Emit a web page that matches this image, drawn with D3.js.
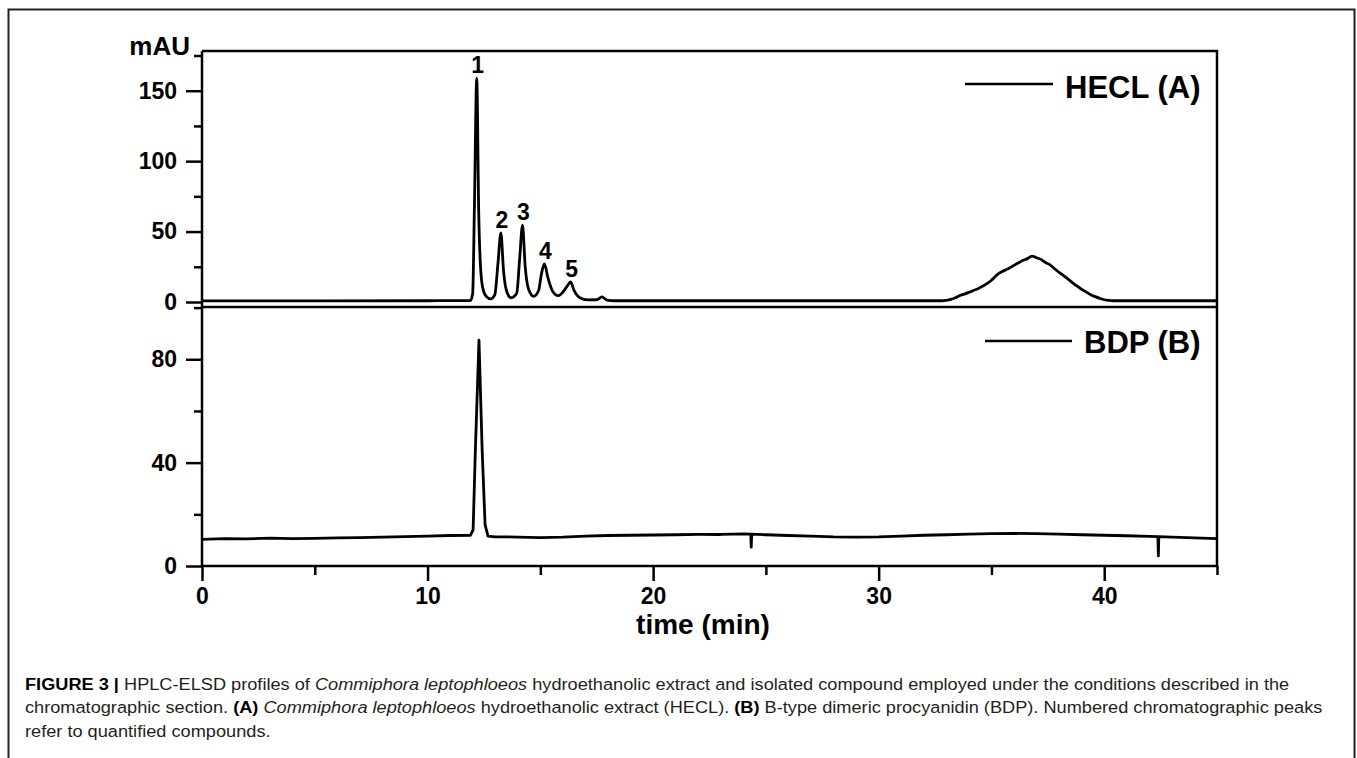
<!doctype html>
<html lang="en">
<head>
  <meta charset="utf-8">
  <title>HPLC-ELSD profiles</title>
  <style>
    body { margin: 0; background: #fff; }
    .axis path, .axis line { stroke: #000; stroke-width: 2.5; }
    .axis text { font: bold 23px "Liberation Sans", Arial, sans-serif; fill: #000; }
    .trace { fill: none; stroke: #000; stroke-width: 2.8; stroke-linejoin: round; }
    .frame { stroke: #000; stroke-width: 2.5; fill: none; }
    .lbl { font: bold 23px "Liberation Sans", Arial, sans-serif; text-anchor: middle; }
    .legend text { font: bold 31px "Liberation Sans", Arial, sans-serif; }
    .caption { font: 17px "Liberation Sans", Arial, sans-serif; fill: #231f20; }
  </style>
</head>
<body>
  <div id="chart"></div>

  <script src="https://d3js.org/d3.v7.min.js"></script>
  <script>
// HECL (A) trace, time in min / signal in mAU
const timeA = [0, 5, 10, 11.9, 12.0, 12.08, 12.18, 12.27, 12.36, 12.46, 12.6, 12.8, 12.98,
  13.12, 13.25, 13.37, 13.5, 13.7, 13.95, 14.08, 14.21, 14.33, 14.48, 14.7, 14.92, 15.05,
  15.18, 15.34, 15.55, 15.8, 16.05, 16.2, 16.34, 16.5, 16.75, 17.1, 17.5, 17.73, 17.95, 18.3,
  25, 32.8, 33.0, 33.2, 33.4, 33.6, 33.8, 34.0, 34.2, 34.4, 34.6, 34.8, 35.0, 35.2, 35.4,
  35.6, 35.8, 36.0, 36.2, 36.4, 36.6, 36.8, 37.0, 37.2, 37.4, 37.6, 37.8, 38.0, 38.2, 38.4,
  38.6, 38.8, 39.0, 39.2, 39.4, 39.6, 39.8, 40.0, 40.2, 40.4, 45];
const signalA = [0.8, 0.8, 0.9, 1.0, 6, 70, 159, 62, 22, 9, 4, 2.2, 5,
  27, 49, 22, 8, 3, 6, 30, 54.5, 25, 9, 4, 8, 20,
  27, 17, 7.5, 4.5, 8, 11.5, 14.2, 8, 3, 1.5, 1.6, 3.6, 1.4, 0.9,
  0.9, 0.9, 1.2, 1.8, 3.0, 4.6, 5.6, 6.8, 8.2, 9.4, 11.2, 13.0, 15.4, 18.6, 21.0,
  22.6, 24.2, 26.0, 27.8, 29.6, 30.8, 32.6, 31.4, 30.2, 28.0, 26.4, 23.6, 21.0, 18.8, 16.2,
  13.6, 11.2, 9.0, 7.2, 5.2, 3.8, 2.6, 1.6, 1.1, 0.9, 0.9];

// BDP (B) trace
const timeB = [0, 1, 2, 3, 4, 5, 6, 7, 8, 9, 10, 11, 11.9, 12.02, 12.12, 12.28, 12.42,
  12.55, 12.68, 13, 14, 15, 16, 17, 18, 19, 20, 21, 22, 23, 24, 24.33, 24.35, 24.37, 25,
  26, 27, 28, 29, 30, 31, 32, 33, 34, 35, 36, 37, 38, 39, 40, 41, 42, 42.38, 42.4, 42.42,
  43, 44, 45];
const signalB = [10.3, 10.6, 10.5, 10.8, 10.6, 10.7, 10.9, 11.0, 11.2, 11.4, 11.6, 11.8,
  11.9, 14, 45, 87.4, 45, 16, 11.6, 11.3, 11.2, 11.0, 11.2, 11.6, 11.8, 11.9, 12.0, 12.1,
  12.2, 12.2, 12.4, 12.3, 7.3, 12.3, 12.1, 11.8, 11.6, 11.3, 11.2, 11.3, 11.6, 11.9, 12.1,
  12.3, 12.5, 12.6, 12.5, 12.3, 12.1, 11.9, 11.7, 11.5, 11.4, 3.9, 11.4, 11.2, 10.9, 10.6];

// numbered peaks of the HECL trace
const peakNames = ['1', '2', '3', '4', '5'];
const peakTimes = [12.18, 13.25, 14.21, 15.18, 16.34];
const peakHeights = [159, 49, 54.5, 27, 14.2];

const xMajor = [0, 10, 20, 30, 40];
const xMinor = [5, 15, 25, 35, 45];
const yMajorA = [0, 50, 100, 150];
const yMinorA = [25, 75, 125, 175];
const yMajorB = [0, 40, 80];
const yMinorB = [20, 60, 100];

const legendNames = ['HECL (A)', 'BDP (B)'];

const width = 1357;
const height = 758;

const svg = d3.select('#chart')
  .append('svg')
  .attr('width', width)
  .attr('height', height);

svg.append('rect')
  .attr('width', width)
  .attr('height', height)
  .attr('fill', '#fff');

// outer figure box
svg.append('rect')
  .attr('x', 8.5)
  .attr('y', 9.5)
  .attr('width', 1346)
  .attr('height', 770)
  .attr('fill', 'none')
  .attr('stroke', '#222')
  .attr('stroke-width', 2);

const left = 202, right = 1217;
const x = d3.scaleLinear().domain([0, 45]).range([left, right]);
const yA = d3.scaleLinear().domain([-3.55, 178.2]).range([307, 51]);
const yB = d3.scaleLinear().domain([0, 100]).range([566, 307.6]);

const lineA = d3.line()
  .x(d => x(d[0]))
  .y(d => yA(d[1]))
  .curve(d3.curveMonotoneX);

const lineB = d3.line()
  .x(d => x(d[0]))
  .y(d => yB(d[1]));

svg.append('path')
  .datum(d3.zip(timeA, signalA))
  .attr('class', 'trace')
  .attr('d', lineA);

svg.append('path')
  .datum(d3.zip(timeB, signalB))
  .attr('class', 'trace')
  .attr('d', lineB);

// panel frames: top line, right line, separator
svg.append('path')
  .attr('class', 'frame')
  .attr('d', `M${left},${yA.range()[1]}H${right}V${yB.range()[0]}M${left},307H${right}`);

// axes
function addAxis(axis, cls, transform) {
  const g = svg.append('g')
    .attr('class', 'axis ' + cls)
    .attr('transform', transform)
    .call(axis);
  g.select('.domain').remove();
  return g;
}

addAxis(d3.axisLeft(yA).tickValues(yMajorA).tickSize(16).tickPadding(9), 'yA', `translate(${left},0)`);
addAxis(d3.axisLeft(yA).tickValues(yMinorA).tickSize(8).tickFormat(''), 'yA', `translate(${left},0)`);
addAxis(d3.axisLeft(yB).tickValues(yMajorB).tickSize(16).tickPadding(9), 'yB', `translate(${left},0)`);
addAxis(d3.axisLeft(yB).tickValues(yMinorB).tickSize(8).tickFormat(''), 'yB', `translate(${left},0)`);
addAxis(d3.axisBottom(x).tickValues(xMajor).tickSize(15).tickPadding(7), 'x', `translate(0,${yB.range()[0]})`);
addAxis(d3.axisBottom(x).tickValues(xMinor).tickSize(9).tickFormat(''), 'x', `translate(0,${yB.range()[0]})`);

// axis lines
svg.append('path')
  .attr('class', 'frame')
  .attr('d', `M${left},${yA.range()[1]}V${yB.range()[0]}H${right}`);

// axis titles
svg.append('text')
  .attr('x', 190)
  .attr('y', 55)
  .attr('text-anchor', 'end')
  .style('font', 'bold 26px "Liberation Sans", Arial, sans-serif')
  .text('mAU');

svg.append('text')
  .attr('x', 703)
  .attr('y', 634)
  .attr('text-anchor', 'middle')
  .style('font', 'bold 28px "Liberation Sans", Arial, sans-serif')
  .text('time (min)');

// peak numbers
svg.append('g')
  .selectAll('text')
  .data(peakNames)
  .join('text')
  .attr('class', 'lbl')
  .attr('x', (d, i) => x(peakTimes[i]) + 1)
  .attr('y', (d, i) => yA(peakHeights[i]) - 5)
  .text(d => d);

// legends
const legendPos = [
  { x1: 965, x2: 1053, y: 84, tx: 1065, ty: 98 },
  { x1: 985, x2: 1072, y: 341, tx: 1084, ty: 353 }
];
const legend = svg.append('g')
  .attr('class', 'legend')
  .selectAll('g')
  .data(legendNames)
  .join('g');

legend.append('line')
  .attr('x1', (d, i) => legendPos[i].x1)
  .attr('x2', (d, i) => legendPos[i].x2)
  .attr('y1', (d, i) => legendPos[i].y)
  .attr('y2', (d, i) => legendPos[i].y)
  .attr('stroke', '#000')
  .attr('stroke-width', 2.5);

legend.append('text')
  .attr('x', (d, i) => legendPos[i].tx)
  .attr('y', (d, i) => legendPos[i].ty)
  .text(d => d);

// caption
const captionLines = [
  [['FIGURE 3 |', 'b'], [' HPLC-ELSD profiles of ', ''], ['Commiphora leptophloeos', 'i'],
    [' hydroethanolic extract and isolated compound employed under the conditions described in the', '']],
  [['chromatographic section. ', ''], ['(A)', 'b'], [' ', ''], ['Commiphora leptophloeos', 'i'],
    [' hydroethanolic extract (HECL). ', ''], ['(B)', 'b'],
    [' B-type dimeric procyanidin (BDP). Numbered chromatographic peaks', '']],
  [['refer to quantified compounds.', '']]
];

const capX = 25;
const capTexts = svg.append('g')
  .selectAll('text')
  .data(captionLines)
  .join('text')
  .attr('class', 'caption')
  .attr('x', capX)
  .attr('y', (d, i) => 690 + i * 23.5);

capTexts.selectAll('tspan')
  .data(d => d)
  .join('tspan')
  .style('font-weight', d => d[1] === 'b' ? 'bold' : null)
  .style('font-style', d => d[1] === 'i' ? 'italic' : null)
  .style('fill', d => d[1] === 'b' ? '#000' : null)
  .text(d => d[0]);

// squeeze caption horizontally so the first line ends where it does in the figure
const firstWidth = capTexts.nodes()[0].getComputedTextLength();
const sx = (1290 - capX) / firstWidth;
capTexts.attr('transform', `translate(${capX},0) scale(${sx},1) translate(${-capX},0)`);
  </script>
</body>
</html>
